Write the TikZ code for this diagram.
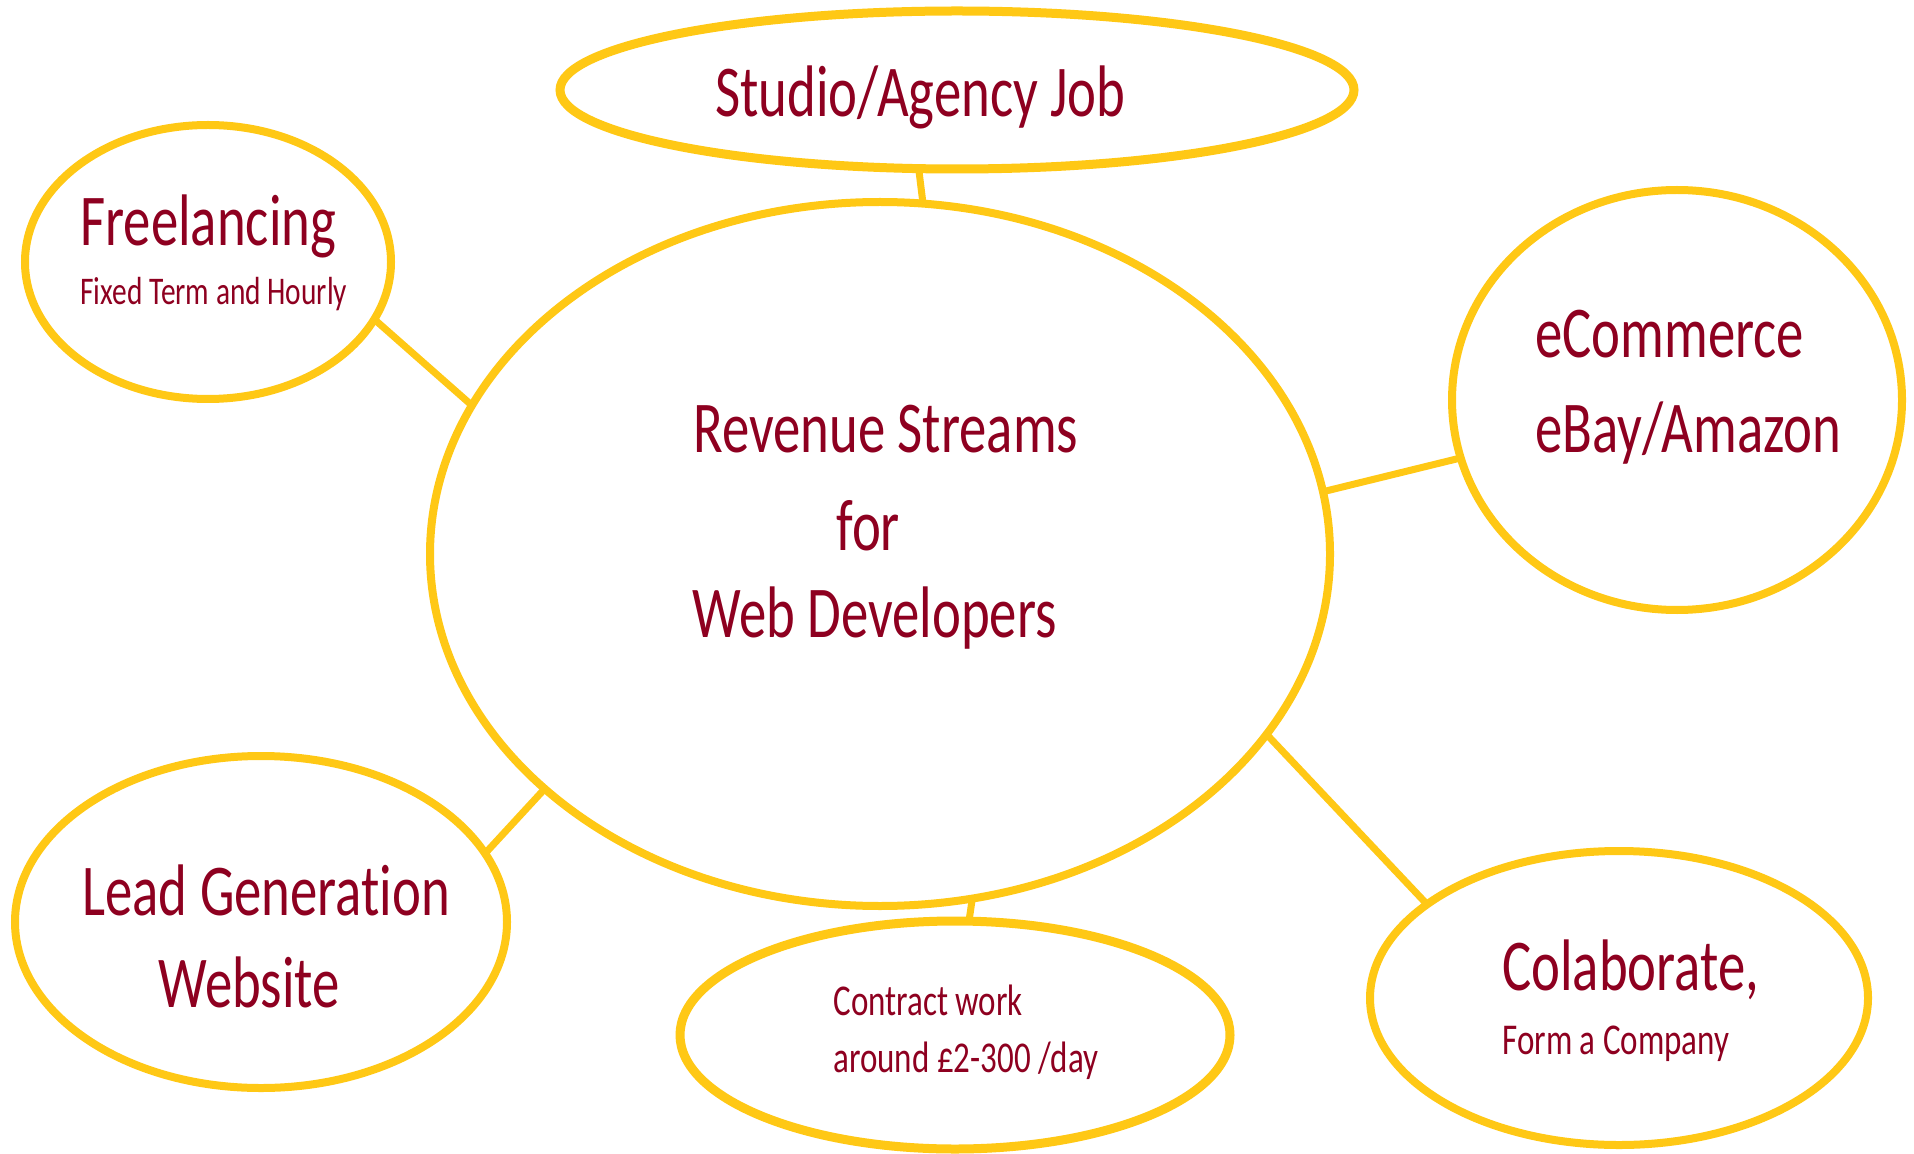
\documentclass[tikz,border=0pt]{standalone}
\usepackage{fontspec}
\setmainfont{Carlito}[FakeStretch=0.75, Ligatures=NoCommon]
\usetikzlibrary{shapes.geometric}
\definecolor{ringyellow}{HTML}{FFC815}
\definecolor{textred}{HTML}{8E0020}
\tikzset{
  bubble/.style={ellipse, draw=ringyellow, line width=4pt, inner sep=0pt, outer sep=0pt, fill=white},
  link/.style={draw=ringyellow, line width=3.5pt},
  bigtxt/.style={anchor=base west, inner sep=0pt, text=textred, font=\fontsize{36.5}{44}\selectfont},
  smalltxt/.style={anchor=base west, inner sep=0pt, text=textred, font=\fontsize{22}{27}\selectfont},
  tinytxt/.style={anchor=base west, inner sep=0pt, text=textred, font=\fontsize{19.6}{24}\selectfont}
}
\begin{document}
\begin{tikzpicture}[x=0.5pt,y=-0.5pt]
\useasboundingbox[fill=white] (0,0) rectangle (1914,1154);
% bubbles
\node[bubble, minimum width=900pt/2, minimum height=704pt/2] (cen) at (880,554) {};
\node[bubble, minimum width=794pt/2, minimum height=158pt/2, line width=4.5pt] (stu) at (957,90) {};
\node[bubble, minimum width=366pt/2, minimum height=274pt/2] (fre) at (208,262) {};
\node[bubble, minimum width=450pt/2, minimum height=420pt/2] (eco) at (1677,400) {};
\node[bubble, minimum width=492pt/2, minimum height=332pt/2] (lead) at (261,922) {};
\node[bubble, minimum width=550pt/2, minimum height=228pt/2, line width=4.5pt] (con) at (955,1035) {};
\node[bubble, minimum width=498pt/2, minimum height=294pt/2] (col) at (1619,998) {};
% connectors
\draw[link] (stu.-116.4) -- (cen.83.8);
\draw[link] (fre.-19.5) -- (cen.160.9);
\draw[link] (eco.-165.7) -- (cen.8.3);
\draw[link] (lead.17.7) -- (cen.215.6);
\draw[link] (con.83.5) -- (cen.-75.7);
\draw[link] (col.154.1) -- (cen.-25.8);
% texts
\node[bigtxt] (t-stu) at (715,117) {Studio/Agency Job};
\node[bigtxt] (t-fre) at (80,246) {Freelancing};
\node[tinytxt] (t-fre2) at (80,305) {Fixed Term and Hourly};
\node[bigtxt] (t-cen1) at (693,452) {Revenue Streams};
\node[bigtxt] (t-cen2) at (836,550) {for};
\node[bigtxt] (t-cen3) at (692,637) {Web Developers};
\node[bigtxt] (t-eco1) at (1535,358) {eCommerce};
\node[bigtxt] (t-eco2) at (1535,452) {eBay/Amazon};
\node[bigtxt] (t-lead1) at (82,915) {Lead Generation};
\node[bigtxt] (t-lead2) at (158,1007) {Website};
\node[smalltxt] (t-con1) at (833,1015) {Contract work};
\node[smalltxt] (t-con2) at (833,1072) {around £2-300 /day};
\node[bigtxt] (t-col1) at (1502,990) {Colaborate,};
\node[smalltxt] (t-col2) at (1502,1054) {Form a Company};
\end{tikzpicture}
\end{document}
